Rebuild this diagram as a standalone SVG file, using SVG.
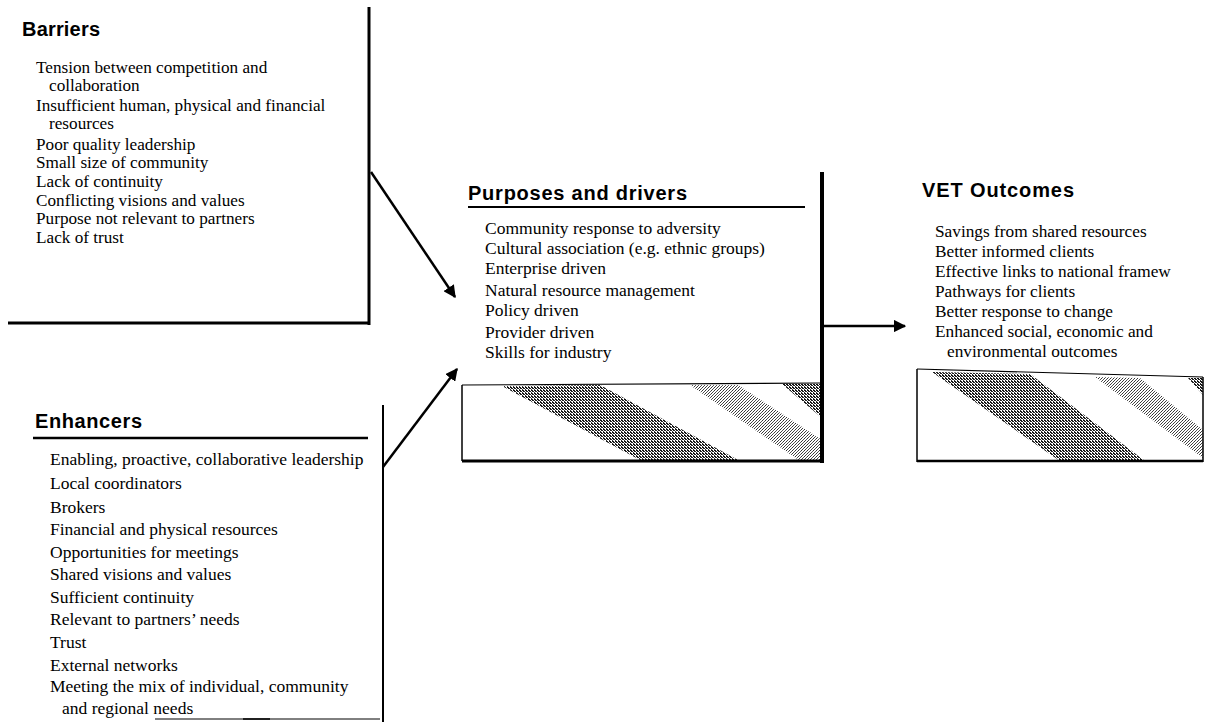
<svg xmlns="http://www.w3.org/2000/svg" width="1212" height="722" viewBox="0 0 1212 722">
<style>
.t{font-family:"Liberation Sans",Arial,sans-serif;font-weight:bold;font-size:20px;fill:#000}
.i{font-family:"Liberation Serif","Times New Roman",serif;font-size:17.5px;fill:#000}
.b{font-size:17.2px}
.v{font-size:17.3px}
.ln{stroke:#000;fill:none}
.cn{stroke:#000;stroke-width:2.5;fill:none}
</style>
<defs>
<marker id="ah" viewBox="0 0 10 10" refX="9" refY="5" markerWidth="5" markerHeight="5" orient="auto" markerUnits="strokeWidth">
<path d="M0,0 L10,5 L0,10 z" fill="#000"/>
</marker>
<pattern id="dk" width="3" height="3" patternUnits="userSpaceOnUse">
<rect width="3" height="3" fill="#fff"/>
<rect width="2" height="1" fill="#111"/>
<rect x="1" y="1" width="2" height="1" fill="#222"/>
<rect x="0" y="2" width="1" height="1" fill="#333"/>
</pattern>
<pattern id="lt" width="3" height="3" patternUnits="userSpaceOnUse">
<rect width="3" height="3" fill="#fff"/>
<rect width="1" height="1" fill="#333"/>
<rect x="2" y="1" width="1" height="1" fill="#555"/>
<rect x="1" y="2" width="1" height="1" fill="#444"/>
</pattern>
</defs>

<g id="barriers">
<text class="t" x="22" y="36" textLength="78">Barriers</text>
<text class="i b" x="36" y="73">Tension between competition and</text>
<text class="i b" x="49" y="91">collaboration</text>
<text class="i b" x="36" y="111">Insufficient human, physical and financial</text>
<text class="i b" x="49" y="129">resources</text>
<text class="i b" x="36" y="150">Poor quality leadership</text>
<text class="i b" x="36" y="168">Small size of community</text>
<text class="i b" x="36" y="187">Lack of continuity</text>
<text class="i b" x="36" y="206">Conflicting visions and values</text>
<text class="i b" x="36" y="224">Purpose not relevant to partners</text>
<text class="i b" x="36" y="243">Lack of trust</text>
<line class="ln" x1="369" y1="7" x2="369" y2="325" stroke-width="3"/>
<line class="ln" x1="8" y1="323" x2="370" y2="323" stroke-width="3"/>
</g>

<g id="enhancers">
<text class="t" x="35" y="428" textLength="107">Enhancers</text>
<line class="ln" x1="33" y1="438" x2="368" y2="438" stroke-width="2.5"/>
<text class="i" x="50" y="465">Enabling, proactive, collaborative leadership</text>
<text class="i" x="50" y="489">Local coordinators</text>
<text class="i" x="50" y="513">Brokers</text>
<text class="i" x="50" y="535">Financial and physical resources</text>
<text class="i" x="50" y="558">Opportunities for meetings</text>
<text class="i" x="50" y="580">Shared visions and values</text>
<text class="i" x="50" y="603">Sufficient continuity</text>
<text class="i" x="50" y="625">Relevant to partners’ needs</text>
<text class="i" x="50" y="648">Trust</text>
<text class="i" x="50" y="671">External networks</text>
<text class="i" x="50" y="692">Meeting the mix of individual, community</text>
<text class="i" x="62" y="714">and regional needs</text>
<line class="ln" x1="383" y1="405" x2="383" y2="722" stroke-width="2"/>
<line class="ln" x1="155" y1="719" x2="380" y2="719" stroke="#bbb" stroke-width="1"/>
<line class="ln" x1="243" y1="719" x2="270" y2="719" stroke-width="1.5"/>
</g>

<g id="purposes">
<text class="t" x="468" y="200" textLength="219">Purposes and drivers</text>
<line class="ln" x1="468" y1="207" x2="805" y2="207" stroke-width="2"/>
<text class="i" x="485" y="234">Community response to adversity</text>
<text class="i" x="485" y="254">Cultural association (e.g. ethnic groups)</text>
<text class="i" x="485" y="274">Enterprise driven</text>
<text class="i" x="485" y="296">Natural resource management</text>
<text class="i" x="485" y="316">Policy driven</text>
<text class="i" x="485" y="338">Provider driven</text>
<text class="i" x="485" y="358">Skills for industry</text>
<polygon points="502,386 600,385 740,461 642,461" fill="url(#dk)"/>
<polygon points="690,385 738,385 822,440 822,461 800,461" fill="url(#lt)"/>
<polygon points="782,384 822,384 822,418" fill="url(#dk)"/>
<line class="ln" x1="462" y1="385" x2="822" y2="383" stroke-width="1.2"/>
<line class="ln" x1="462" y1="385" x2="462" y2="461" stroke-width="1.5"/>
<line class="ln" x1="462" y1="461" x2="822" y2="461" stroke-width="3"/>
<line class="ln" x1="822" y1="172" x2="822" y2="463" stroke-width="4"/>
</g>

<g id="vet">
<text class="t" x="922" y="197" textLength="152">VET Outcomes</text>
<text class="i v" x="935" y="237">Savings from shared resources</text>
<text class="i v" x="935" y="257">Better informed clients</text>
<text class="i v" x="935" y="277">Effective links to national framew</text>
<text class="i v" x="935" y="297">Pathways for clients</text>
<text class="i v" x="935" y="317">Better response to change</text>
<text class="i v" x="935" y="337">Enhanced social, economic and</text>
<text class="i v" x="947" y="357">environmental outcomes</text>
<polygon points="932,372 1030,374 1145,461 1060,461" fill="url(#dk)"/>
<polygon points="1095,377 1140,378 1203,430 1203,458" fill="url(#lt)"/>
<polygon points="1188,378 1203,378 1203,395" fill="url(#dk)"/>
<line class="ln" x1="917" y1="369" x2="1203" y2="377" stroke-width="1.2"/>
<line class="ln" x1="917" y1="369" x2="917" y2="462" stroke-width="1.5"/>
<line class="ln" x1="1203" y1="377" x2="1203" y2="462" stroke-width="1.5"/>
<line class="ln" x1="917" y1="461" x2="1203" y2="461" stroke-width="2.5"/>
</g>

<g id="connectors">
<line class="cn" x1="371" y1="172" x2="455" y2="297" marker-end="url(#ah)"/>
<line class="cn" x1="383" y1="467" x2="457" y2="369" marker-end="url(#ah)"/>
<line class="cn" x1="824" y1="326" x2="905" y2="326" marker-end="url(#ah)"/>
</g>
</svg>
